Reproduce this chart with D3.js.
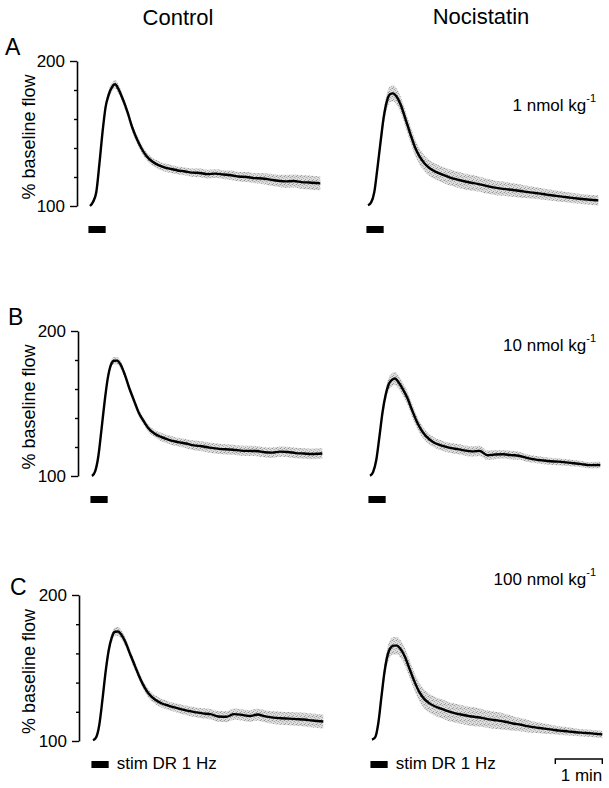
<!DOCTYPE html>
<html>
<head>
<meta charset="utf-8">
<script src="https://cdn.jsdelivr.net/npm/d3@7"></script>
<style>
  html, body { margin: 0; padding: 0; background: #fff; }
  svg { display: block; }
  text { font-family: "Liberation Sans", Arial, Helvetica, sans-serif; fill: #000; }
</style>
</head>
<body>
<svg id="chart" width="609" height="788"></svg>
<script>
// ---- data ----
const columns = ["Control", "Nocistatin"];
const rowLetters = ["A", "B", "C"];
const doses = ["1", "10", "100"];
const yTicks = [100, 120, 140, 160, 180, 200];
const yTickLabels = ["100", "", "", "", "", "200"];
const stimLabel = "stim DR 1 Hz";
const scaleBarLabel = "1 min";
const stimSec = [-2, 20];
const scaleBarSec = [234, 294];

const timeSec = [0,4,8,12,16,20,24,28,32,36,42,48,54,60,66,72,80,88,96,104,112,120,130,140,150,160,170,180,190,200,210,220,230,240,250,260,270,280,294];

const controlA = [100,103,109.5,129,151,168.5,177,182,184,181,173.5,164.5,154,146,139.5,134.5,130.5,128,126.5,125.5,124.5,124,123,122.8,122,122.3,121.7,121.2,120.3,120,119.2,119,118.2,117.4,117,117.2,116.5,116.2,115.6];
const nocistatinA = [100.5,102.5,109.5,126,144,161,172,177,177.7,175.8,169.5,159.7,149.8,140.5,134,129.5,125.5,123.2,121.4,119.8,118.5,117.4,116.2,115.3,114,112.8,112,111.4,110.7,109.9,109.2,108.5,107.7,107,106.3,105.6,105,104.5,103.9];
const controlB = [100,103.2,113.3,131.5,150.8,167,176.5,179.5,179.6,177.3,169.7,160,151.5,143.2,137.8,133,129.2,127,125.4,124,123.2,122.4,121.1,120.5,119.6,118.9,118.4,118.1,117.5,117.3,117.2,116.4,116.1,116.8,116.6,115.8,115.5,115.2,115.5];
const nocistatinB = [100.2,102.8,111,127,144,156,163.5,166.3,167.2,165,159.8,153.5,145,137.2,131.3,127.2,123.7,121.6,120.2,119.2,118.5,117.7,117,117.3,114.3,114.8,115,114.4,114,112.5,111.5,110.8,110.2,109.9,109.4,108.8,108.2,107.5,107.6];
const controlC = [100.5,102.5,111,128,147,162,171,174.8,175,173,167,158.7,150.8,143,136.5,131.8,128.1,125.7,124.3,123,121.8,120.8,119.8,118.9,118.4,116.8,116.6,118.4,117.9,117.1,118.1,116.9,116,115.6,115.3,115,114.7,114,113.4];
const nocistatinC = [101,102.5,112,130,147.5,159,164,165.3,165.3,163.3,157.7,149.3,141,134,129.2,126.3,123.8,122.2,120.6,119.3,118.3,117.5,116.6,115.8,114.8,114.1,113.2,112,111.1,110,109.2,108.5,107.8,107.1,106.6,106,105.6,105.2,104.5];

const semControlA = [0.5,1,1.5,2,2.5,3,3,3,3,3,3,3,3,3,3,2.8,2.8,2.8,2.8,2.8,2.8,2.8,2.8,3,3,3,3,3.2,3.2,3.5,3.5,3.8,4,4.2,4.5,4.5,4.8,4.8,4.8];
const semNocistatinA = [0.5,1.5,2.5,3.5,4.5,5,5.5,5.5,5.5,5.5,5.5,5.5,5.5,5.5,5.5,5.5,5.5,5.5,5.5,5.5,5.5,5.5,5.5,5.3,5.2,5,5,4.8,4.6,4.4,4.2,4,3.8,3.7,3.6,3.5,3.5,3.5,3.5];
const semControlB = [0.5,1,1.5,2,2.5,2.5,2.5,2.5,2.5,2.5,2.5,2.5,2.5,2.5,2.5,2.5,2.5,2.8,3,3,3,3.2,3.3,3.5,3.5,3.5,3.5,3.5,3.5,3.5,3.5,3.5,3.6,3.6,3.6,3.6,3.6,3.6,3.6];
const semNocistatinB = [0.5,1.2,2,3,3.5,4,4.5,4.5,4.5,4.5,4.5,4.5,4.5,4.2,4,3.8,3.6,3.5,3.5,3.5,3.5,3.5,3.5,3.5,3.3,3.2,3,3,2.8,2.6,2.5,2.5,2.4,2.4,2.3,2.3,2.2,2.2,2.2];
const semControlC = [0.5,1,1.5,2,2.5,3,3,3,3,3,3,3,3,3,3,3,3,3,3,3,3.2,3.3,3.4,3.5,3.6,3.7,3.8,3.8,3.9,4,4,4.2,4.3,4.4,4.5,4.6,4.7,4.8,4.8];
const semNocistatinC = [0.5,1.5,3,4,5,5.5,6,6,6,6,6,6,6,6.2,6.5,6.5,6.5,6.5,6.5,6.5,6.5,6.5,6.5,6.2,6,5.8,5.5,5,4.6,4.2,3.8,3.5,3.2,3,2.8,2.6,2.5,2.5,2.5];

const seriesValues = [[controlA, nocistatinA], [controlB, nocistatinB], [controlC, nocistatinC]];
const seriesSem = [[semControlA, semNocistatinA], [semControlB, semNocistatinB], [semControlC, semNocistatinC]];

// ---- layout ----
const rowTop = [61, 331, 595];
const rowBottom = [206, 476, 741];
const axisX = [77, 78, 79];
const colX0 = [[90, 368], [92, 370], [93, 372]];
const pxPerMin = 47;

const svg = d3.select("#chart");

// stipple pattern for SEM band
const defs = svg.append("defs");
const pat = defs.append("pattern").attr("id", "stip").attr("patternUnits", "userSpaceOnUse")
  .attr("width", 4).attr("height", 4);
pat.append("rect").attr("width", 4).attr("height", 4).attr("fill", "#dadada");
[[0,0,"#8a8a8a"],[2,1,"#a0a0a0"],[1,3,"#959595"],[3,2,"#b0b0b0"],[1,1,"#c4c4c4"],[3,0,"#bdbdbd"]].forEach(p => {
  pat.append("rect").attr("x", p[0]).attr("y", p[1]).attr("width", 1).attr("height", 1).attr("fill", p[2]);
});

// headers
svg.append("text").attr("x", 178).attr("y", 25).attr("text-anchor", "middle")
  .attr("font-size", 22).text(columns[0]);
svg.append("text").attr("x", 481).attr("y", 24).attr("text-anchor", "middle")
  .attr("font-size", 22).text(columns[1]);

const letterPos = [[5, 55], [8, 325], [10, 595]];
const dosePosY = [111, 351, 585];

rowLetters.forEach((letter, r) => {
  const y = d3.scaleLinear().domain([100, 200]).range([rowBottom[r], rowTop[r]]);

  // panel letter
  svg.append("text").attr("x", letterPos[r][0]).attr("y", letterPos[r][1])
    .attr("font-size", 23).text(letter);

  // y axis
  const axis = d3.axisLeft(y).tickValues(yTicks).tickSize(6).tickSizeOuter(0).tickPadding(6)
    .tickFormat((d, i) => yTickLabels[i]);
  const gA = svg.append("g").attr("transform", `translate(${axisX[r]},0)`).call(axis);
  gA.select(".domain").attr("stroke", "#000").attr("stroke-width", 1.6);
  gA.selectAll(".tick line").attr("stroke", "#000").attr("stroke-width", 1.4)
    .attr("x2", d => (d === 100 || d === 200) ? -7 : -3);
  gA.selectAll(".tick text").attr("font-size", 17).attr("fill", "#000")
    .style("font-family", '"Liberation Sans", Arial, sans-serif');

  // y label
  const cy = (rowTop[r] + rowBottom[r]) / 2 + 3.5;
  svg.append("text").attr("transform", `translate(35,${cy}) rotate(-90)`)
    .attr("text-anchor", "middle").attr("font-size", 18).text("% baseline flow");

  // dose label
  const dt = svg.append("text").attr("x", 596).attr("y", dosePosY[r])
    .attr("text-anchor", "end").attr("font-size", 17);
  dt.append("tspan").text(doses[r] + " nmol kg");
  dt.append("tspan").attr("font-size", 11).attr("dy", -9).text("-1");

  [0, 1].forEach(c => {
    const x0 = colX0[r][c];
    const x = d3.scaleLinear().domain([0, 60]).range([x0, x0 + pxPerMin]);
    const vals = seriesValues[r][c];
    const sem = seriesSem[r][c];
    const pts = timeSec.map((t, i) => ({ t, v: vals[i], s: sem[i] }));

    const area = d3.area().curve(d3.curveMonotoneX)
      .x(d => x(d.t)).y0(d => y(d.v - d.s)).y1(d => y(d.v + d.s));
    svg.append("path").datum(pts).attr("d", area).attr("fill", "url(#stip)").attr("opacity", 0.9);

    const line = d3.line().curve(d3.curveMonotoneX).x(d => x(d.t)).y(d => y(d.v));
    svg.append("path").datum(pts).attr("d", line).attr("fill", "none")
      .attr("stroke", "#000").attr("stroke-width", 2.4).attr("stroke-linejoin", "round");

    // stim bar
    const barTop = rowBottom[r] + 20;
    svg.append("rect").attr("x", x(stimSec[0])).attr("y", barTop)
      .attr("width", x(stimSec[1]) - x(stimSec[0])).attr("height", 7).attr("fill", "#000");

    if (r === 2) {
      svg.append("text").attr("x", x(stimSec[1]) + 8).attr("y", barTop + 8)
        .attr("font-size", 17).text(stimLabel);
    }
    if (r === 2 && c === 1) {
      const sbY = 759;
      const xa = x(scaleBarSec[0]), xb = x(scaleBarSec[1]);
      svg.append("path").attr("d", `M${xa},${sbY + 5}V${sbY}H${xb}V${sbY + 5}`)
        .attr("fill", "none").attr("stroke", "#000").attr("stroke-width", 1.4);
      svg.append("text").attr("x", xb).attr("y", 781).attr("text-anchor", "end")
        .attr("font-size", 17).text(scaleBarLabel);
    }
  });
});
</script>
</body>
</html>
